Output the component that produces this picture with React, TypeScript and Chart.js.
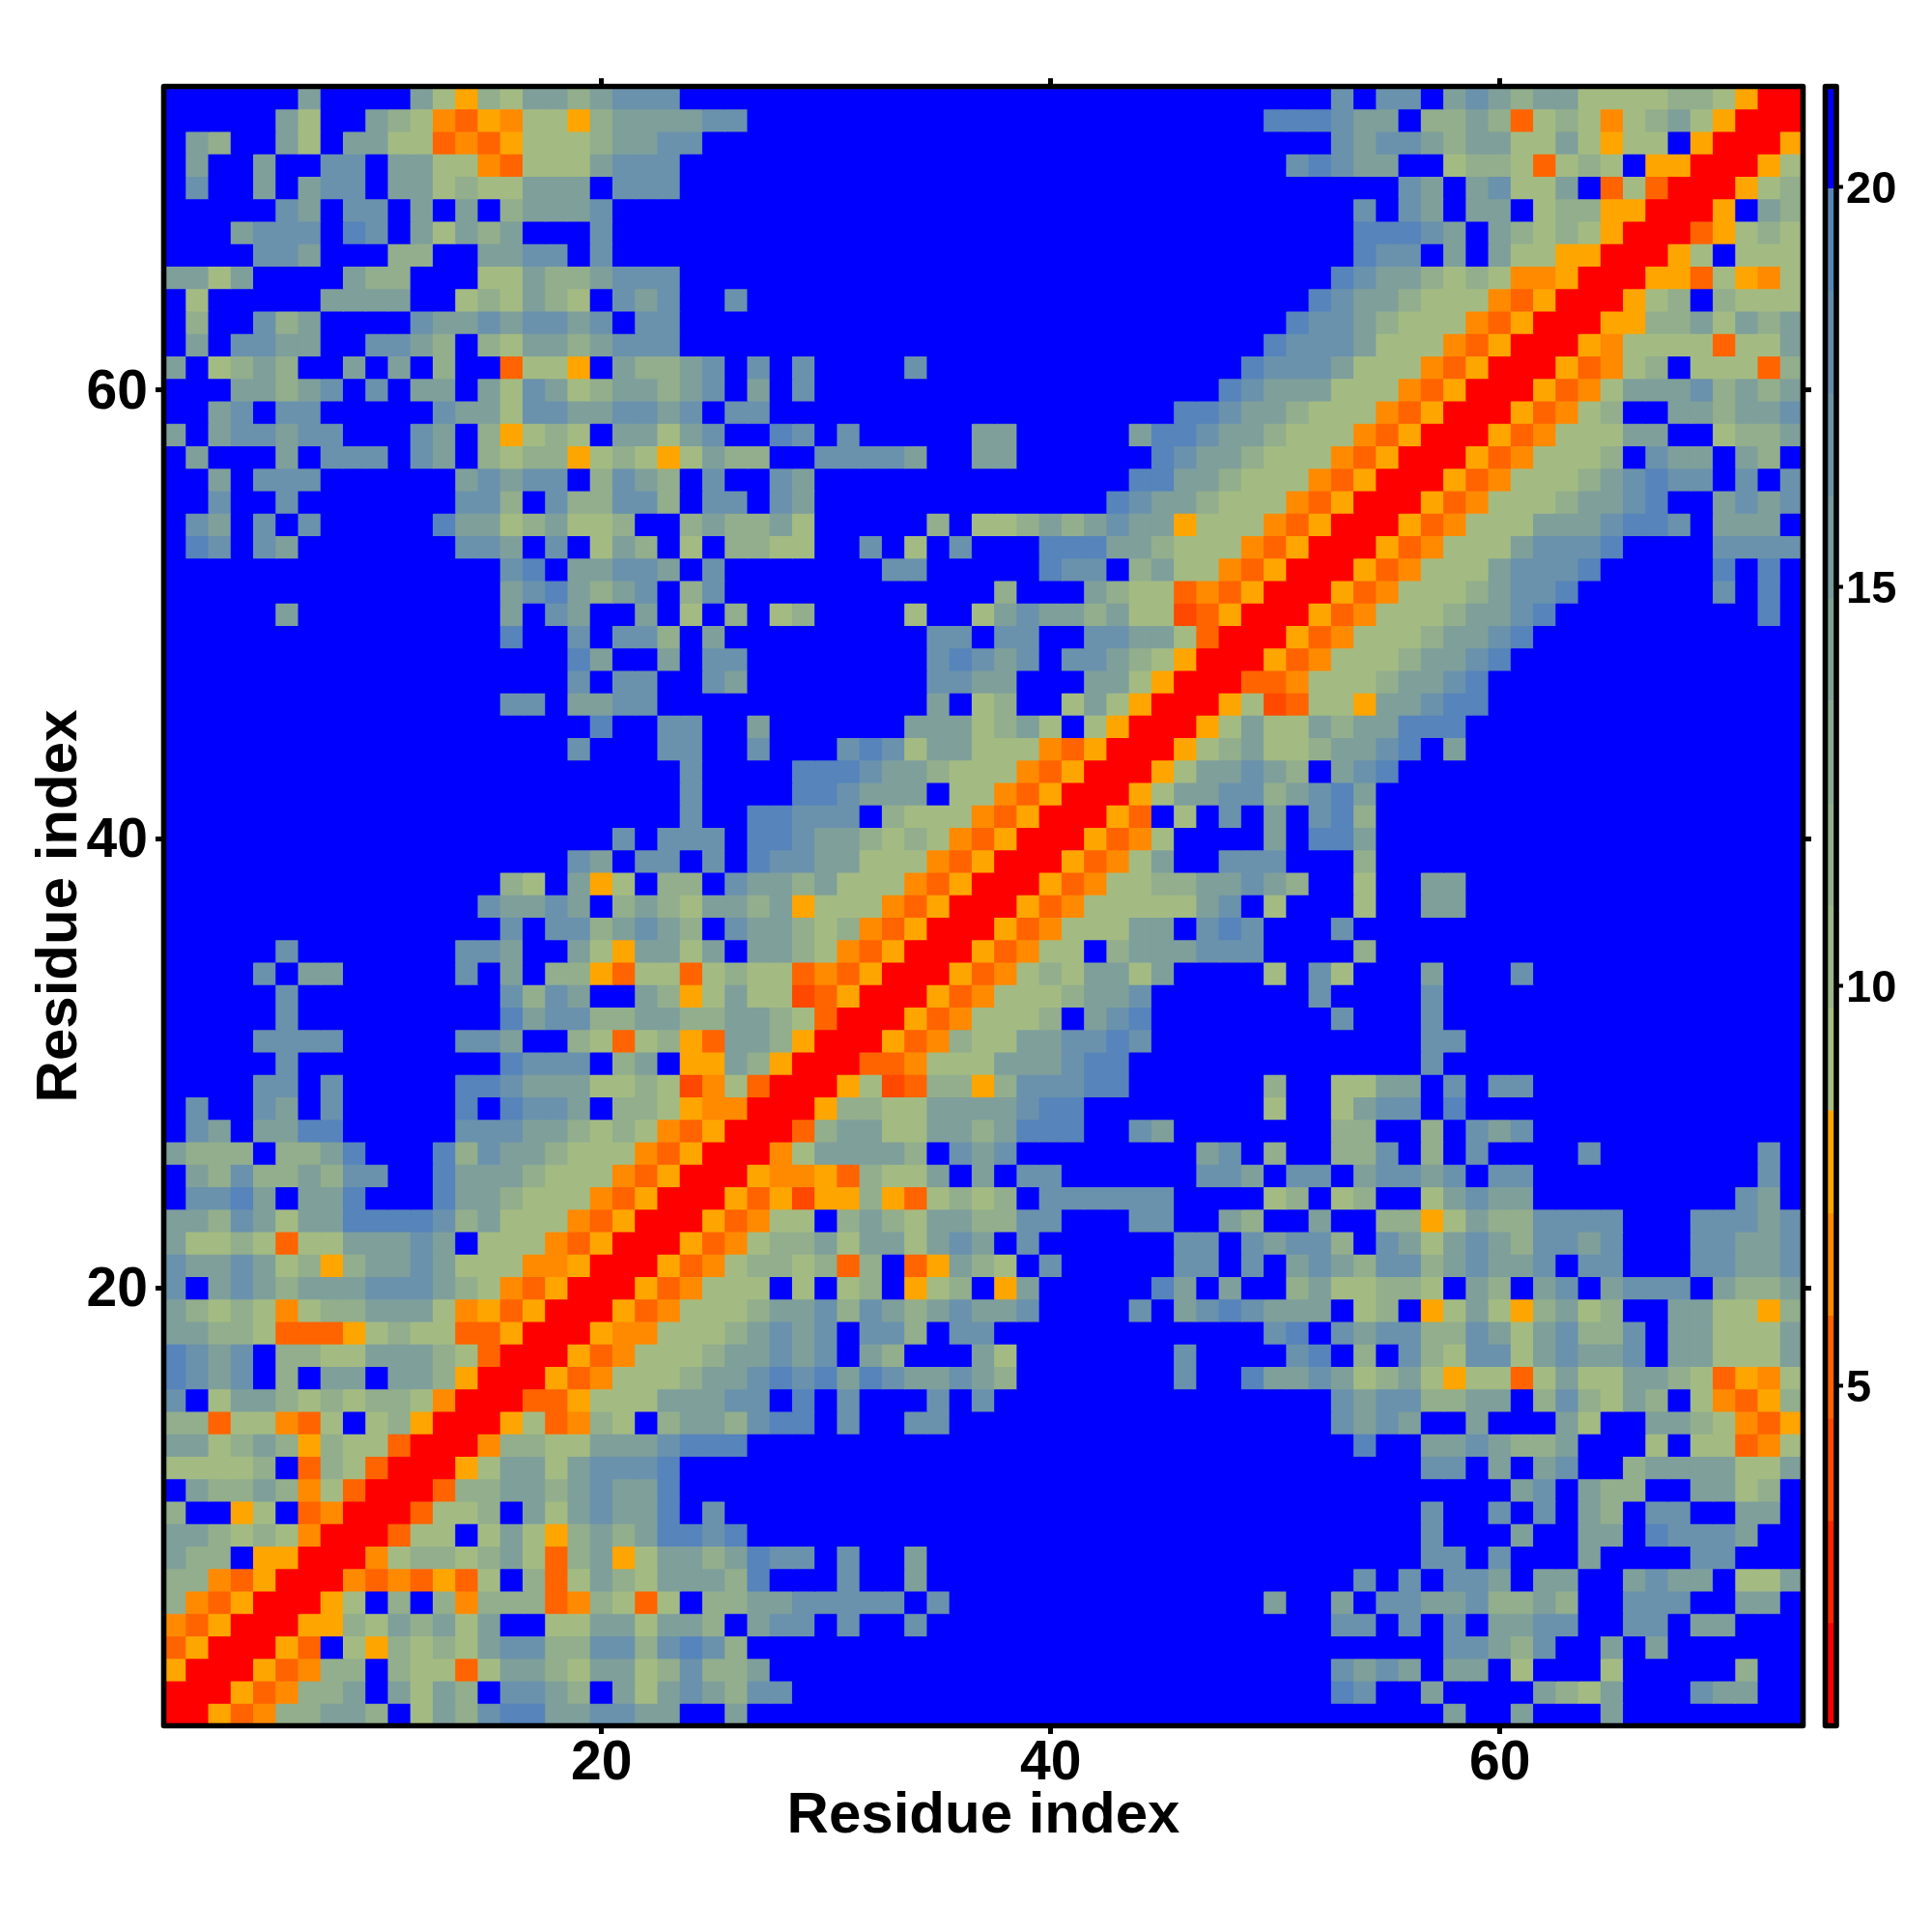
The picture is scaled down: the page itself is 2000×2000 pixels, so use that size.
import React, { useEffect, useRef } from "react";
import { Chart, registerables } from "chart.js";

Chart.register(...registerables);

// Lower triangle of the symmetric residue map, rows from y=73 (top) to y=1, x=1..y.
const residueRows: string[] = [
  "BBBBB B3BBB B31A2 13323 444BB BBBBB BBBBB BBBBB BBBBB BBBBB BB4B4 4B343 23311 11221 ARR",
  "BBBBB 31BB3 21ODA O11A2 33334 4BBBB BBBBB BBBBB BBBBB BBBB5 55433 B2232 D121O 1231A RR",
  "B32BB 31B33 11DOD A1112 3344B BBBBB BBBBB BBBBB BBBBB BBBBB BB434 43233 1131A 11BAR R",
  "B3BB3 BB44B 3311O D1113 444BB BBBBB BBBBB BBBBB BBBBB BBBBB 45433 BB122 1D121 BAARR",
  "B4BB3 B344B 33121 1333B 444BB BBBBB BBBBB BBBBB BBBBB BBBBB BBBBB 43B34 113BD 1DRR",
  "BBBBB 43B44 B3B3B 23334 BBBBB BBBBB BBBBB BBBBB BBBBB BBBBB BBB4B 43B33 B122A ARR",
  "BBB34 44B54 B3132 3BBB4 BBBBB BBBBB BBBBB BBBBB BBBBB BBBBB BBB55 543B3 2121A RR",
  "BBBB4 43BBB 22BB3 344B4 BBBBB BBBBB BBBBB BBBBB BBBBB BBBBB BBB54 4B3B3 11AAR R",
  "3313B BBB32 2BBB1 13223 444BB BBBBB BBBBB BBBBB BBBBB BBBBB BB543 32121 OOARR",
  "B1BBB BB333 3BB12 1321B 434BB 4BBBB BBBBB BBBBB BBBBB BBBBB B5433 2111O DARR",
  "B2BB4 23BBB B4334 34434 B44BB BBBBB BBBBB BBBBB BBBBB BBBBB 54432 111OD ARR",
  "B3B44 33BB4 432B2 13323 444BB BBBBB BBBBB BBBBB BBBBB BBBB5 44431 11ODA RR",
  "3B123 2BB3B 3B2BB D11AB 32234 B4B4B BBB4B BBBBB BBBBB BBB54 44311 1ODAR R",
  "BBB33 234B4 B33B3 14312 33234 B3B4B BBBBB BBBBB BBBBB BB543 33111 ODARR",
  "BB34B 44BBB BB433 14433 4434B 44BBB BBBBB BBBBB BBBBB 55433 2111O DARR",
  "3B344 344BB B43B2 A121B 33134 BB54B 4BBBB B33BB BBB35 54332 111OD ARR",
  "B3BBB 3B444 B43B2 122A1 21A13 22BB4 4443B B33BB BBBB5 43321 11ODA RR",
  "BB3B4 44BBB BBB34 344B2 432B4 BB43B BBBBB BBBBB BBB55 33211 1ODAR R",
  "BB4BB 4BBBB BBB44 2B422 442B4 4B43B BBBBB BBBBB BB543 32111 ODARR",
  "B43B4 B4BBB BB533 12311 2BB23 2231B BBBB2 B1123 23433 A111O DARR",
  "B54B4 3BBBB BBB44 3B4B1 32B1B 2211B B4B1B 4BBB5 55332 111OD ARR",
  "BBBBB BBBBB BBBBB 45B33 443B4 BBBBB BB44B BBBB5 44B23 11ODA RR",
  "BBBBB BBBBB BBBBB 34532 34B24 BBBBB BBBBB BB2BB B3211 DODAR R",
  "BBBBB 3BBBB BBBBB 3B43B B3B1B 2B12B BBB1B B1343 32311 EDARR",
  "BBBBB BBBBB BBBBB 5BB4B 442B3 BBBBB BBBB4 4B44B B4433 1DRR",
  "BBBBB BBBBB BBBBB BBB53 BB3B4 4BBBB BBBB4 5434B 44321 ARR",
  "BBBBB BBBBB BBBBB BBB4B 44BB4 3BBBB BBBB4 433BB B331A RR",
  "BBBBB BBBBB BBBBB 44B33 44BBB BBBBB BBBB3 B12BB 131AR R",
  "BBBBB BBBBB BBBBB BBBB5 BB44B B3BBB BBB33 31231 B1ARR",
  "BBBBB BBBBB BBBBB BBB4B BB44B B4BBB 45413 3111O DARR",
  "BBBBB BBBBB BBBBB BBBBB BBB4B BBB55 54332 111OD ARR",
  "BBBBB BBBBB BBBBB BBBBB BBB4B BBB55 4333B 11ODA RR",
  "BBBBB BBBBB BBBBB BBBBB BBB4B B5544 4B211 1ODAR R",
  "BBBBB BBBBB BBBBB BBBBB 4B444 B5543 32121 ODARR",
  "BBBBB BBBBB BBBBB BBB43 B44B4 B5443 3111O DARR",
  "BBBBB BBBBB BBBBB 21B3A 1B22B 43323 111OD ARR",
  "BBBBB BBBBB BBBB4 3343B 23213 323A1 11ODA RR",
  "BBBBB BBBBB BBBBB 4B442 3432B 43321 2ODAR R",
  "BBBBB 4BBBB BBB44 3BB31 A3313 B3321 ODARR",
  "BBBB4 B33BB BBB4B 3B22A D11D1 211DO DARR",
  "BBBBB 4BBBB BBBBB 4243B B32A1 311ED ARR",
  "BBBBB 4BBBB BBBBB 53442 23322 3321D RR",
  "BBBB4 444BB BBB44 3BB21 D12AD 332AR R",
  "BBBBB 4BBBB BBBBB 5444B 23BAA 32ARR",
  "BBBB4 4B4BB BBB55 43331 121EO 1DRR",
  "B4BB4 3B4BB BBB5B 5443B 221AO ORR",
  "B43B3 355BB BBB44 43321 21ODA RR",
  "3222B 2235B BB524 33211 1ODAR R",
  "B3242 23244 BB533 32111 ODARR",
  "B4453 B335B BB533 2111O DARR",
  "33243 13355 55423 111OD ARR",
  "31121 D1133 343B1 11ODA RR",
  "43343 12A23 34311 1OOAR R",
  "4B343 23334 44321 ODARR",
  "32121 O1223 331OA DARR",
  "33221 DDDA1 211DD ARR",
  "5434B 22113 3321D RR",
  "5434B 2B33B 332AR R",
  "4B133 21212 21ORR",
  "22D11 OD1B1 2ARR",
  "33123 2A211 DRR",
  "11112 BD21D RR",
  "B3223 2O1DR R",
  "2BBA1 BDORR",
  "33212 1ORR",
  "322BA ARR",
  "22ODA RR",
  "2ODAR R",
  "ODARR",
  "DARR",
  "ARR",
  "RR",
  "R",
];

const levelCodes = ["R", "E", "D", "O", "A", "1", "2", "3", "4", "5", "B"];
const levelColors = ["#ff0000", "#ff4800", "#ff6400", "#ff8a00", "#ffa500", "#a3bb82", "#92ae8c", "#7f9f9b", "#6a92ac", "#5684bb", "#0000ff"];

const axisTicks = [20, 40, 60];
const colorbarTicks = [5, 10, 15, 20];
const colorbarEdges = [0.74, 2.02, 3.3, 4.58, 5.87, 7.15, 8.44, 9.72, 11.0, 12.28, 13.57, 14.85, 16.13, 17.41, 18.7, 19.98, 21.26];
const colorbarColors = [
  "#ff0000", "#ff2400", "#ff4800", "#ff6400", "#ff8a00", "#ffa500",
  "#a5bd81", "#9cb586", "#93ae8c", "#89a892", "#80a198", "#769a9e", "#6c93a5", "#628cab", "#5885b5", "#0000ff",
];

const FONT = "'Liberation Sans', Arial, sans-serif";

const framePlugin = {
  id: "frame",
  beforeDraw(chart: any) {
    // vertical labels sit a little under their tick in the reference
    const scale = chart.scales.y;
    scale.getLabelItems().forEach((item: any) => {
      if (!item.nudged) {
        item.textOffset += 3.5;
        item.nudged = true;
      }
    });
  },
  afterDatasetsDraw(chart: any) {
    const { ctx, chartArea: a } = chart;
    ctx.save();
    ctx.strokeStyle = "#000";
    ctx.lineWidth = 5.6;
    ctx.lineJoin = "round";
    ctx.strokeRect(a.left, a.top, a.right - a.left, a.bottom - a.top);
    ctx.restore();
  },
};

const fixed = (size: number) => (scale: any) => {
  if (scale.isHorizontal()) scale.height = size;
  else scale.width = size;
};
const setTicks = (values: number[]) => (scale: any) => {
  scale.ticks = values.map((value) => ({ value }));
};
const tickGrid = (len: number, w: number) => ({ drawOnChartArea: false, drawTicks: true, tickLength: len, tickWidth: w, tickColor: "#000" });

function cells() {
  const points: { x: number; y: number }[] = [];
  const colors: string[] = [];
  const rows = residueRows.map((r) => r.replace(/ /g, ""));
  const n = rows.length;
  rows.forEach((r, i) => {
    if (r.length !== n - i) throw new Error(`row y=${n - i} has length ${r.length}`);
  });
  for (let y = 1; y <= n; y++) {
    for (let x = 1; x <= n; x++) {
      const code = rows[n - Math.max(x, y)][Math.min(x, y) - 1];
      points.push({ x, y });
      colors.push(levelColors[levelCodes.indexOf(code)]);
    }
  }
  return { points, colors };
}

export default function App() {
  const mapRef = useRef<HTMLCanvasElement>(null);
  const barRef = useRef<HTMLCanvasElement>(null);

  useEffect(() => {
    document.body.style.margin = "0";
    const { points, colors } = cells();
    const map = new Chart(mapRef.current!, {
      type: "scatter",
      data: {
        datasets: [
          {
            data: points,
            pointStyle: "rect",
            pointRadius: 17.1,
            pointBorderWidth: 0,
            pointBackgroundColor: colors,
            showLine: false,
          } as any,
        ],
      },
      plugins: [framePlugin],
      options: {
        responsive: false,
        animation: false,
        events: [],
        layout: { padding: 0 },
        plugins: { legend: { display: false }, tooltip: { enabled: false } },
        scales: {
          x: {
            type: "linear",
            position: "bottom",
            min: 0.5,
            max: 73.5,
            afterBuildTicks: setTicks(axisTicks),
            afterFit: fixed(213.5),
            border: { display: false },
            grid: tickGrid(8.5, 5),
            ticks: { color: "#000", padding: -3, maxRotation: 0, font: { family: FONT, weight: "bold", size: 57 } },
            title: { display: true, text: "Residue index", color: "#000", padding: { top: 0, bottom: 84 }, font: { family: FONT, weight: "bold", size: 60 } },
          },
          x2: {
            type: "linear",
            position: "top",
            min: 0.5,
            max: 73.5,
            afterBuildTicks: setTicks(axisTicks),
            afterFit: fixed(89.5),
            border: { display: false },
            grid: tickGrid(8.5, 5),
            ticks: { display: false },
          },
          y: {
            type: "linear",
            position: "left",
            min: 0.5,
            max: 73.5,
            afterBuildTicks: setTicks(axisTicks),
            afterFit: fixed(169.5),
            border: { display: false },
            grid: tickGrid(8.5, 5),
            ticks: { color: "#000", padding: 8, font: { family: FONT, weight: "bold", size: 57 } },
            title: { display: true, text: "Residue index", color: "#000", padding: { top: 26, bottom: 0 }, font: { family: FONT, weight: "bold", size: 60 } },
          },
          y2: {
            type: "linear",
            position: "right",
            min: 0.5,
            max: 73.5,
            afterBuildTicks: setTicks(axisTicks),
            afterFit: fixed(133.5),
            border: { display: false },
            grid: tickGrid(8.5, 5),
            ticks: { display: false },
          },
        },
      } as any,
    });

    const bar = new Chart(barRef.current!, {
      type: "bar",
      data: {
        labels: [""],
        datasets: colorbarColors.map((c, i) => ({
          data: [[colorbarEdges[i], colorbarEdges[i + 1]]],
          backgroundColor: c,
          borderWidth: 0,
          barPercentage: 1,
          categoryPercentage: 1,
          grouped: false,
        })) as any,
      },
      plugins: [framePlugin],
      options: {
        responsive: false,
        animation: false,
        events: [],
        layout: { padding: 0 },
        plugins: { legend: { display: false }, tooltip: { enabled: false } },
        scales: {
          x: {
            type: "category",
            position: "bottom",
            afterFit: fixed(213.5),
            border: { display: false },
            grid: { display: false },
            ticks: { display: false },
          },
          x2: {
            type: "category",
            position: "top",
            afterFit: fixed(89.5),
            border: { display: false },
            grid: { display: false },
            ticks: { display: false },
          },
          y: {
            type: "linear",
            position: "right",
            min: colorbarEdges[0],
            max: colorbarEdges[colorbarEdges.length - 1],
            afterBuildTicks: setTicks(colorbarTicks),
            afterFit: fixed(99),
            border: { display: false },
            grid: tickGrid(7, 4),
            ticks: { color: "#000", padding: 3, font: { family: FONT, weight: "bold", size: 47 } },
          },
          y2: {
            type: "linear",
            position: "left",
            min: 0,
            max: 1,
            afterFit: fixed(19.5),
            border: { display: false },
            grid: { display: false },
            ticks: { display: false },
          },
        },
      } as any,
    });

    return () => {
      map.destroy();
      bar.destroy();
    };
  }, []);

  return (
    <div style={{ position: "absolute", left: 0, top: 0, width: 2000, height: 2000, background: "#fff" }}>
      <canvas ref={mapRef} width={2000} height={2000} style={{ position: "absolute", left: 0, top: 0, display: "block", width: 2000, height: 2000 }} />
      <canvas ref={barRef} width={130} height={2000} style={{ position: "absolute", left: 1870, top: 0, display: "block", width: 130, height: 2000 }} />
    </div>
  );
}
